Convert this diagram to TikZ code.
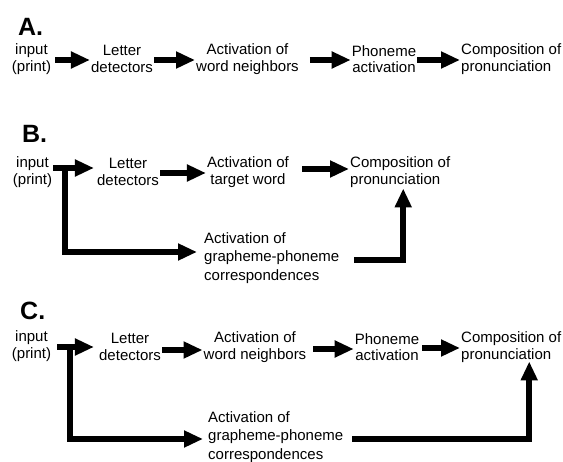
\documentclass[tikz,border=0pt]{standalone}
\usepackage{fontspec}
\setmainfont{Liberation Sans}
\usetikzlibrary{arrows.meta}
\tikzset{
  lbl/.style={font=\fontsize{15}{16.5}\selectfont, align=center, inner sep=1pt},
  lblL/.style={font=\fontsize{15}{16.5}\selectfont, align=left, inner sep=1pt, anchor=west},
  gpc/.style={font=\fontsize{15}{18.5}\selectfont, align=left, inner sep=1pt, anchor=west},
  panel/.style={font=\fontsize{25}{27}\selectfont\bfseries, anchor=base west, inner sep=0pt},
  tip/.style={-{Triangle[length=19pt,width=16pt]}},
  arr/.style={line width=5.5pt, tip},
  ln/.style={line width=5.5pt},
}
\begin{document}
\begin{tikzpicture}[x=1pt,y=-1pt]
\useasboundingbox (0,0) rectangle (563,462);
% Panel A
\node[panel] (pa) at (18,36) {A.};
\node[lbl] (inA) at (31.5,59) {input\\(print)};
\node[lbl] (letA) at (122,59) {Letter\\detectors};
\node[lbl] (actA) at (247.5,59) {Activation of\\word neighbors};
\node[lbl] (phoA) at (384,59) {Phoneme\\activation};
\node[lblL] (comA) at (460,59) {Composition of\\pronunciation};
\draw[arr] ([xshift=3pt,yshift=-1pt]inA.east) -- ([yshift=-1pt]letA.west);
\draw[arr] ([yshift=-1pt]letA.east) -- ([yshift=-1pt]actA.west);
\draw[arr] ([xshift=10pt,yshift=-1pt]actA.east) -- ([yshift=-1pt]phoA.west);
\draw[arr] ([yshift=-1pt]phoA.east) -- ([yshift=-1pt]comA.west);
% Panel B
\node[panel] (pb) at (22,143) {B.};
\node[lbl] (inB) at (32.5,172) {input\\(print)};
\node[lbl] (letB) at (128,172) {Letter\\detectors};
\node[lbl] (actB) at (248,172) {Activation of\\target word};
\node[lblL] (comB) at (349,172) {Composition of\\pronunciation};
\node[gpc] (gpcB) at (203,258) {Activation of\\grapheme-phoneme\\correspondences};
\coordinate (bsB) at (53,168);
\coordinate (brB) at (65,168);
\draw[arr] (bsB) -- ([xshift=-2pt]letB.west |- bsB);
\draw[arr] ([yshift=-1pt]letB.east) -- ([yshift=-1pt]actB.west);
\draw[arr] ([xshift=12pt,yshift=3pt]actB.east) -- ([yshift=3pt]comB.west);
\draw[ln,tip] ([yshift=2.75pt]brB) |- ([xshift=-6pt,yshift=6pt]gpcB.west);
\draw[arr] ([xshift=14pt,yshift=-2pt]gpcB.east) -| ([xshift=3pt]comB.south);
% Panel C
\node[panel] (pc) at (20,320) {C.};
\node[lbl] (inC) at (31.5,346) {input\\(print)};
\node[lbl] (letC) at (130,347) {Letter\\detectors};
\node[lbl] (actC) at (255,347) {Activation of\\word neighbors};
\node[lbl] (phoC) at (387,347) {Phoneme\\activation};
\node[lblL] (comC) at (460,347) {Composition of\\pronunciation};
\node[gpc] (gpcC) at (207,437) {Activation of\\grapheme-phoneme\\correspondences};
\coordinate (bsC) at (57,347);
\coordinate (brC) at (70,347);
\draw[arr] (bsC) -- ([xshift=-4pt]letC.west |- bsC);
\draw[arr] ([yshift=-3pt]letC.east) -- ([yshift=-3pt]actC.west);
\draw[arr] ([xshift=6pt,yshift=-2pt]actC.east) -- ([yshift=-2pt]phoC.west);
\draw[arr] ([xshift=2pt,yshift=-1pt]phoC.east) -- ([yshift=-1pt]comC.west);
\draw[ln,tip] ([yshift=2.75pt]brC) |- ([xshift=-4pt,yshift=-2pt]gpcC.west);
\draw[arr] ([xshift=8pt,yshift=-2pt]gpcC.east) -| ([xshift=18pt,yshift=2pt]comC.south);
\end{tikzpicture}
\end{document}
